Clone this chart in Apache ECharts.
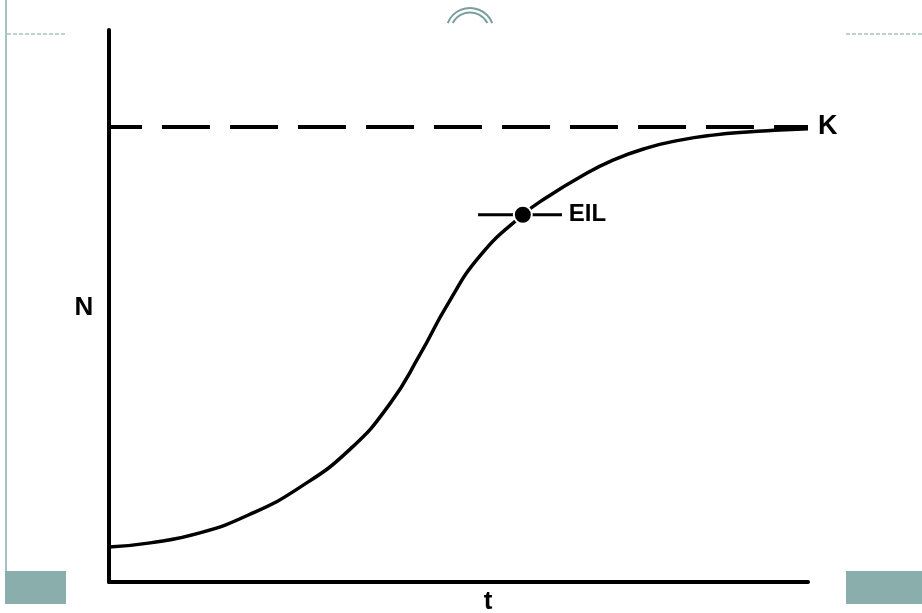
<!DOCTYPE html>
<html>
<head>
<meta charset="utf-8">
<script src="https://cdn.jsdelivr.net/npm/echarts@6/dist/echarts.min.js"></script>
<style>
  html, body { margin: 0; padding: 0; background: #fff; }
  #chart { width: 922px; height: 613px; }
</style>
</head>
<body>
<div id="chart"></div>
<script>
// logistic growth curve
var tValues = [0, 5.9, 13, 20.2, 27.3, 34.5, 40.2, 44.5, 48.4, 53.1, 59.2, 62.7, 67.4, 72.1, 77, 81.7, 86.4, 91.3, 96, 100];
var nValues = [7.7, 8.6, 10.8, 14.9, 20.8, 29.2, 39.2, 50, 60.9, 71.7, 80.7, 84.6, 89, 92.7, 95.4, 97.1, 98.2, 98.9, 99.3, 99.6];

// carrying capacity and economic injury level
var kLevel = 100;
var eilPoint = [59.2, 80.7];
var eilBar = [52.8, 64.8];

var tMax = 100;
var nMax = 121.3;

var myChart = echarts.init(document.getElementById("chart"));
var teal = "#8aaeac";
var font = "'Liberation Sans', Arial, sans-serif";

var curve = tValues.map(function (t, i) { return [t, nValues[i]]; });

var option = {
    animation: false,
    grid: { left: 109, right: 114, top: 30, bottom: 31 },
    xAxis: {
        type: "value",
        min: 0,
        max: tMax,
        axisLine: { show: true, lineStyle: { color: "#000", width: 4 } },
        axisTick: { show: false },
        axisLabel: { show: false },
        splitLine: { show: false }
    },
    yAxis: {
        type: "value",
        min: 0,
        max: nMax,
        axisLine: { show: true, lineStyle: { color: "#000", width: 4 } },
        axisTick: { show: false },
        axisLabel: { show: false },
        splitLine: { show: false }
    },
    series: [
        {
            // K dashed line
            type: "line",
            data: [[0, kLevel], [tMax, kLevel]],
            symbol: "none",
            lineStyle: { color: "#000", width: 4, type: [48, 20], dashOffset: 15 },
            endLabel: {
                show: true,
                formatter: "K",
                distance: 10,
                color: "#000",
                fontSize: 27,
                fontWeight: "bold",
                fontFamily: font
            },
            z: 2
        },
        {
            type: "line",
            data: curve,
            smooth: 0.5,
            symbol: "none",
            lineStyle: { color: "#000", width: 3.5 },
            z: 3
        },
        {
            type: "line",
            data: [[eilBar[0], eilPoint[1]], [eilBar[1], eilPoint[1]]],
            symbol: "none",
            lineStyle: { color: "#000", width: 3 },
            z: 3
        },
        {
            type: "scatter",
            data: [eilPoint],
            symbolSize: 18,
            itemStyle: { color: "#000", opacity: 1, borderColor: "#fff", borderWidth: 2 },
            label: {
                show: true,
                position: "right",
                distance: 36,
                formatter: "EIL",
                color: "#000",
                fontSize: 24,
                fontWeight: "bold",
                fontFamily: font
            },
            z: 4
        }
    ],
    graphic: [
        // slide decoration
        { type: "line", shape: { x1: 6, y1: 0, x2: 6, y2: 604 }, style: { stroke: "#a9c1c2", lineWidth: 2 } },
        { type: "line", shape: { x1: 7, y1: 34, x2: 66, y2: 34 }, style: { stroke: "#7fa3a3", lineWidth: 1, lineDash: [4, 2] } },
        { type: "line", shape: { x1: 846, y1: 34, x2: 922, y2: 34 }, style: { stroke: "#7fa3a3", lineWidth: 1, lineDash: [4, 2] } },
        { type: "arc", shape: { cx: 470, cy: 32, r: 24, startAngle: -2.76, endAngle: -0.38, clockwise: true }, style: { stroke: "#7a9e9e", lineWidth: 2, fill: null } },
        { type: "arc", shape: { cx: 470, cy: 32, r: 19.5, startAngle: -2.66, endAngle: -0.48, clockwise: true }, style: { stroke: "#7a9e9e", lineWidth: 2, fill: null } },
        { type: "rect", shape: { x: 5, y: 571, width: 61, height: 33 }, style: { fill: teal } },
        { type: "rect", shape: { x: 846, y: 571, width: 76, height: 33 }, style: { fill: teal } },
        // axis titles
        {
            type: "text", x: 84, y: 308,
            style: { text: "N", font: "bold 26px " + font, fill: "#000", align: "center", verticalAlign: "middle" }
        },
        {
            type: "text", x: 488, y: 602,
            style: { text: "t", font: "bold 26px " + font, fill: "#000", align: "center", verticalAlign: "middle" }
        }
    ]
};

myChart.setOption(option);
</script>
</body>
</html>
